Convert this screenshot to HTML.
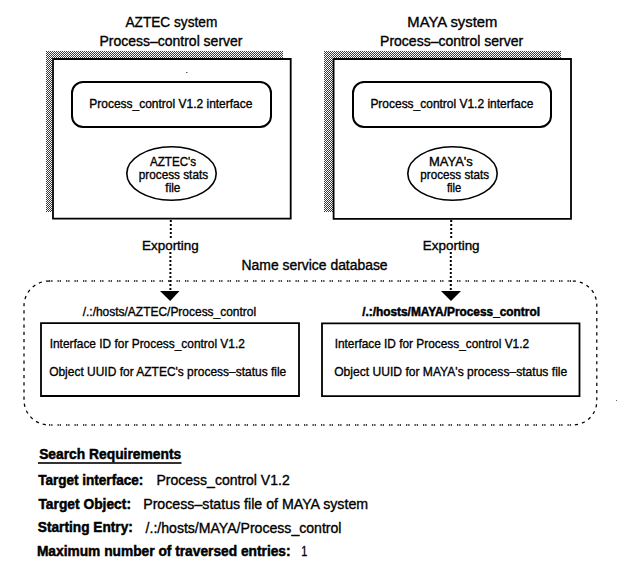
<!DOCTYPE html>
<html><head><meta charset="utf-8">
<style>
html,body{margin:0;padding:0;background:#fff;}
svg{display:block;}
text{font-family:"Liberation Sans",sans-serif;fill:#000;stroke:#000;stroke-width:0.35px;white-space:pre;}
text[font-weight="bold"]{stroke-width:0.5px;}
</style></head>
<body>
<svg width="619" height="568" viewBox="0 0 619 568">
<defs>
<pattern id="dith" width="2" height="2" patternUnits="userSpaceOnUse" x="46" y="51">
<rect x="0" y="0" width="2" height="2" fill="#fff"/>
<rect x="0" y="0" width="1" height="1" fill="#383838"/>
<rect x="1" y="1" width="1" height="1" fill="#383838"/>
</pattern>
</defs>
<rect width="619" height="568" fill="#fff"/>
<!-- shadows -->
<rect x="46" y="51" width="237" height="161" fill="url(#dith)"/>
<rect x="324" y="51" width="237" height="161" fill="url(#dith)"/>
<!-- server boxes -->
<rect x="52" y="58" width="239" height="161" fill="#fff"/>
<path d="M53 218.7 V59 H290.7 V218.7 Z" fill="none" stroke="#000" stroke-width="1.8"/>
<rect x="333" y="58" width="239" height="161" fill="#fff"/>
<path d="M333.6 218.8 V59 H571 V218.8 Z" fill="none" stroke="#000" stroke-width="1.8"/>
<!-- interface rounded rects -->
<rect x="72" y="82" width="199" height="45" rx="11" ry="11" fill="none" stroke="#000" stroke-width="2"/>
<rect x="353" y="82" width="198" height="45" rx="11" ry="11" fill="none" stroke="#000" stroke-width="2"/>
<!-- ellipses -->
<ellipse cx="171.5" cy="173.5" rx="44.7" ry="26.7" fill="none" stroke="#000" stroke-width="1.6"/>
<ellipse cx="452.5" cy="173.5" rx="44.7" ry="26.7" fill="none" stroke="#000" stroke-width="1.6"/>
<!-- dotted arrows -->
<path d="M170.8 220 V238 M170.4 252 V290" fill="none" stroke="#000" stroke-width="2" stroke-dasharray="2 2"/>
<path d="M160 291 H179.5 L170.2 301 Z" fill="#000"/>
<path d="M451.2 220 V238 M450.8 252 V290" fill="none" stroke="#000" stroke-width="2" stroke-dasharray="2 2"/>
<path d="M441 291 H461 L451 301 Z" fill="#000"/>
<!-- dashed name service rect -->
<g fill="none" stroke="#000" stroke-width="1.5">
<path d="M49 281 H572.8 M49 425 H572.8" stroke-dasharray="1.3 0.9 1.3 5"/>
<path d="M49 281 A25 25 0 0 0 24 306 V400 A25 25 0 0 0 49 425" stroke-dasharray="3.2 4" stroke-width="1.25"/>
<path d="M572.8 281 A24 24 0 0 1 596.8 305 V401 A24 24 0 0 1 572.8 425" stroke-dasharray="3.2 4" stroke-width="1.25"/>
</g>
<!-- inner boxes -->
<path d="M41 396 V323.1 H299 V396 Z" fill="none" stroke="#000" stroke-width="1.8"/>
<path d="M322 396.2 V323.3 H579.5 V396.2 Z" fill="none" stroke="#000" stroke-width="1.8"/>
<!-- underline -->
<rect x="38" y="462.2" width="143.5" height="1.6" fill="#000"/>
<rect x="186" y="72" width="1.5" height="1" fill="#555"/>
<rect x="616" y="400" width="1" height="1" fill="#666"/>

<text x="125.47" y="27.10" font-size="14.3" textLength="91.83" lengthAdjust="spacingAndGlyphs">AZTEC system</text>
<text x="99.48" y="46.20" font-size="14.0" textLength="143.01" lengthAdjust="spacingAndGlyphs">Process–control server</text>
<text x="407.35" y="27.10" font-size="14.3" textLength="90.00" lengthAdjust="spacingAndGlyphs">MAYA system</text>
<text x="380.08" y="46.20" font-size="14.0" textLength="143.11" lengthAdjust="spacingAndGlyphs">Process–control server</text>
<text x="89.30" y="107.50" font-size="12.4" textLength="163.12" lengthAdjust="spacingAndGlyphs">Process_control V1.2 interface</text>
<text x="370.40" y="107.50" font-size="12.4" textLength="162.92" lengthAdjust="spacingAndGlyphs">Process_control V1.2 interface</text>
<text x="150.06" y="166.00" font-size="13.0" textLength="46.04" lengthAdjust="spacingAndGlyphs">AZTEC&#39;s</text>
<text x="138.76" y="178.70" font-size="12.6" textLength="69.35" lengthAdjust="spacingAndGlyphs">process stats</text>
<text x="165.36" y="191.50" font-size="12.6" textLength="15.08" lengthAdjust="spacingAndGlyphs">file</text>
<text x="429.08" y="166.00" font-size="13.0" textLength="43.75" lengthAdjust="spacingAndGlyphs">MAYA&#39;s</text>
<text x="420.36" y="178.70" font-size="12.6" textLength="68.65" lengthAdjust="spacingAndGlyphs">process stats</text>
<text x="446.96" y="191.50" font-size="12.6" textLength="14.29" lengthAdjust="spacingAndGlyphs">file</text>
<text x="142.06" y="249.50" font-size="13.2" textLength="56.70" lengthAdjust="spacingAndGlyphs">Exporting</text>
<text x="422.86" y="249.60" font-size="13.2" textLength="56.70" lengthAdjust="spacingAndGlyphs">Exporting</text>
<text x="241.58" y="270.00" font-size="14.0" textLength="146.03" lengthAdjust="spacingAndGlyphs">Name service database</text>
<text x="82.67" y="315.80" font-size="12.4" textLength="173.49" lengthAdjust="spacingAndGlyphs">/.:/hosts/AZTEC/Process_control</text>
<text x="362.14" y="315.80" font-size="12.4" font-weight="bold" textLength="177.84" lengthAdjust="spacingAndGlyphs">/.:/hosts/MAYA/Process_control</text>
<text x="49.66" y="348.20" font-size="13.2" textLength="195.19" lengthAdjust="spacingAndGlyphs">Interface ID for Process_control V1.2</text>
<text x="49.16" y="376.40" font-size="13.2" textLength="237.09" lengthAdjust="spacingAndGlyphs">Object UUID for AZTEC&#39;s process–status file</text>
<text x="334.66" y="348.10" font-size="13.2" textLength="194.38" lengthAdjust="spacingAndGlyphs">Interface ID for Process_control V1.2</text>
<text x="334.16" y="376.20" font-size="13.2" textLength="233.09" lengthAdjust="spacingAndGlyphs">Object UUID for MAYA&#39;s process–status file</text>
<text x="39.13" y="458.50" font-size="15.3" font-weight="bold" textLength="142.11" lengthAdjust="spacingAndGlyphs">Search Requirements</text>
<text x="38.13" y="485.00" font-size="15.0" font-weight="bold" textLength="105.15" lengthAdjust="spacingAndGlyphs">Target interface:</text>
<text x="156.49" y="485.30" font-size="14.3" textLength="133.19" lengthAdjust="spacingAndGlyphs">Process_control V1.2</text>
<text x="38.43" y="509.00" font-size="15.0" font-weight="bold" textLength="92.56" lengthAdjust="spacingAndGlyphs">Target Object:</text>
<text x="143.18" y="509.40" font-size="14.3" textLength="224.94" lengthAdjust="spacingAndGlyphs">Process–status file of MAYA system</text>
<text x="37.83" y="532.30" font-size="15.0" font-weight="bold" textLength="95.05" lengthAdjust="spacingAndGlyphs">Starting Entry:</text>
<text x="145.57" y="532.50" font-size="14.3" textLength="195.93" lengthAdjust="spacingAndGlyphs">/.:/hosts/MAYA/Process_control</text>
<text x="36.91" y="556.00" font-size="15.0" font-weight="bold" textLength="253.67" lengthAdjust="spacingAndGlyphs">Maximum number of traversed entries:</text>
<text x="301.37" y="556.00" font-size="14.3" textLength="6.06" lengthAdjust="spacingAndGlyphs">1</text>
</svg>
</body></html>
